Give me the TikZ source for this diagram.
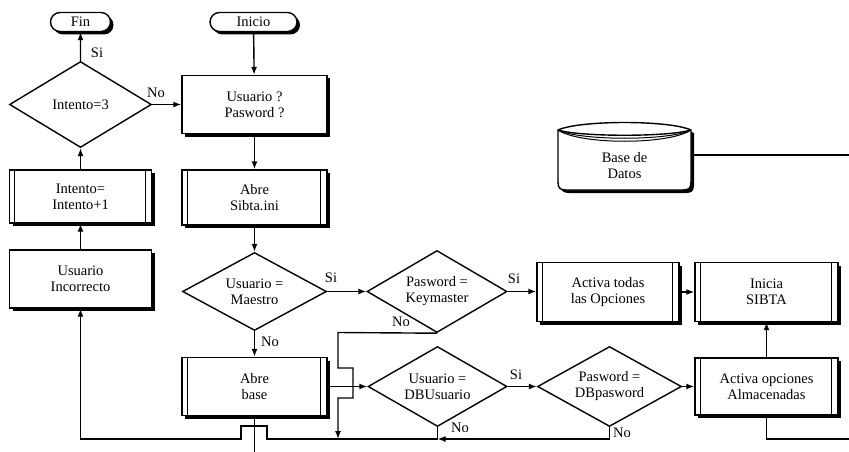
\documentclass[tikz,border=0pt]{standalone}
\usepackage{fontspec}
\setmainfont{Liberation Serif}
\usetikzlibrary{shapes.geometric,shapes.misc,arrows.meta,shadows}
\newcommand\ppl[1]{\draw[line width=1pt] ([xshift=6pt]#1.north west) -- ([xshift=6pt]#1.south west) ([xshift=-7pt]#1.north east) -- ([xshift=-7pt]#1.south east);}
\begin{document}
\begin{tikzpicture}[x=1pt,y=-1pt,
 every node/.style={font=\fontsize{14.5}{16}\selectfont, align=center},
 ln/.style={line width=1.4pt},
 sh/.style={drop shadow={shadow xshift=3pt,shadow yshift=-3pt,fill=black,opacity=1}},
 proc/.style={ln,draw,fill=white,rectangle,inner sep=0pt,minimum width=145pt,minimum height=58pt,sh},
 term/.style={ln,draw,fill=white,rounded rectangle,inner sep=0pt,minimum height=19pt,sh},
 dec/.style={ln,draw,fill=white,diamond,aspect=1.7,inner sep=0pt},
 lab/.style={inner sep=0pt},
 con/.style={ln,-{Latex[length=8pt,width=6pt]}},
 wire/.style={ln}
]
\fill[white] (0,0) rectangle (849,452);
\useasboundingbox (0,0) rectangle (849,452);

% terminators
\node[term, minimum width=60pt] (fin) at (80.5,22) {Fin};
\node[term, minimum width=87pt] (inicio) at (253.5,22) {Inicio};

% left column
\node[dec, minimum width=142pt, minimum height=86pt] (int3) at (80.5,104.5) {Intento=3};
\node[proc, minimum width=142pt, minimum height=53pt] (intinc) at (80.5,196.5) {Intento=\\Intento+1};
\node[proc, minimum width=142pt] (uinc) at (80.5,279) {Usuario\\Incorrecto};

% second column
\node[proc] (up) at (254.5,104.5) {Usuario ?\\Pasword ?};
\node[proc, minimum height=55pt] (sibta) at (254.5,197.5) {Abre\\Sibta.ini};
\node[dec, minimum width=144pt, minimum height=78pt] (maestro) at (254.5,291.5) {Usuario =\\Maestro};
\node[proc] (abase) at (254.5,386.5) {Abre\\base};

% row 1 right
\node[dec, minimum width=140pt, minimum height=82pt] (keym) at (437,291.5) {Pasword =\\Keymaster};
\node[proc, minimum width=142pt, minimum height=59pt] (acttod) at (608,292) {Activa todas\\las Opciones};
\node[proc, minimum width=143pt, minimum height=59pt] (inicia) at (766.5,292) {Inicia\\SIBTA};

% row 2 right
\node[dec, minimum width=139pt, minimum height=80pt] (dbu) at (437.5,386.5) {Usuario =\\DBUsuario};
\node[dec, minimum width=144pt, minimum height=80pt] (dbp) at (609.5,386.5) {Pasword =\\DBpasword};
\node[proc, minimum width=143pt, minimum height=57pt] (actopc) at (766.5,386.5) {Activa opciones\\Almacenadas};

% predefined-process inner lines
\ppl{intinc}
\ppl{sibta}
\ppl{abase}
\ppl{acttod}
\ppl{inicia}
\ppl{actopc}

% database drum
\draw[ln, fill=white, drop shadow={shadow xshift=3pt,shadow yshift=-3pt,fill=black,opacity=1}]
  (558,130) -- (558,182) .. controls (558,188) and (560,190) .. (566,190) -- (683,190)
  .. controls (689,190) and (691,188) .. (691,182) -- (691,130)
  .. controls (669,120) and (580,120) .. (558,130) -- cycle;
\draw[ln] (558,130) .. controls (580,137) and (669,137) .. (691,130);
\draw[line width=1pt] (558,130) .. controls (580,141) and (669,141) .. (691,130);
\draw[line width=1pt] (558,130) .. controls (580,145) and (669,145) .. (691,130);
\node (dbtext) at (624.5,166) {Base de\\Datos};
\coordinate (dbr) at (691,155);
\coordinate (dbout) at (849,155);
\draw[wire] (dbr) -- (dbout);

% labels
\node[lab] (l1) at (97,53) {Si};
\node[lab] (l2) at (156,93) {No};
\node[lab] (l3) at (331,278) {Si};
\node[lab] (l4) at (514,279) {Si};
\node[lab] (l5) at (270,342) {No};
\node[lab] (l6) at (401,322) {No};
\node[lab] (l7) at (516,375) {Si};
\node[lab] (l8) at (460,428) {No};
\node[lab] (l9) at (622,433) {No};

% main connectors
\draw[con] (inicio) -- (up);
\draw[con] (int3.east) -- (up.west |- int3.east);
\draw[con] (up) -- (sibta);
\draw[con] (sibta) -- (maestro);
\draw[con] (maestro.east) -- (keym.west);
\draw[con] (keym.east) -- (acttod.west |- keym.east);
\draw[con] (acttod) -- (inicia);
\draw[con] (maestro) -- (abase);
\draw[con] (abase.east |- dbu.west) -- (dbu.west);
\draw[con] (dbu.east) -- (dbp.west);
\draw[con] (dbp.east) -- (actopc.west |- dbp.east);
\draw[con] (actopc) -- (inicia);
\draw[con] (uinc) -- (intinc);
\draw[con] (intinc) -- (int3);
\draw[con] (int3) -- (fin);

% "No" returns along the bottom
\coordinate (bj) at (437.5,439);
\coordinate (kj) at (338,439);
\draw[con] (keym.south) -- (338,332.5) -- (338,368) -- (353,368) -- (353,398) -- (338,398) -- (kj);
\draw[wire] (dbu.south) -- (bj);
\draw[con] (dbp.south) |- (bj);
\draw[con] (bj) -- (267,439) -- (267,426) -- (241,426) -- (241,439) -- (uinc.south |- bj) -- (uinc.south);

% exits off the page
\coordinate (abot) at (254.5,452);
\coordinate (rbot) at (849,439);
\draw[wire] (abase) -- (abot);
\draw[wire] (actopc.south) |- (rbot);
\end{tikzpicture}
\end{document}
